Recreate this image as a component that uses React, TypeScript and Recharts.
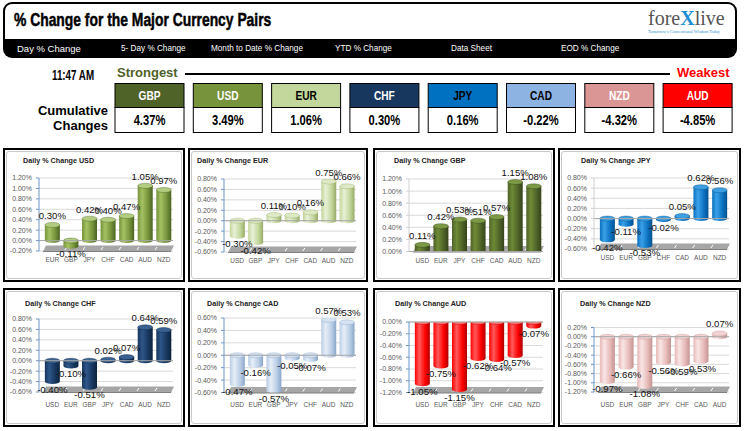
import React from 'react'
import { BarChart, Bar, XAxis, YAxis, CartesianGrid, ReferenceLine, ReferenceArea, LabelList } from 'recharts'

const SANS = "'Liberation Sans', Arial, sans-serif"
const SERIF = "'Liberation Serif', 'Times New Roman', serif"

// strongest -> weakest
const rankedCurrencies = ['GBP', 'USD', 'EUR', 'CHF', 'JPY', 'CAD', 'NZD', 'AUD']
const cumulativeChanges = [4.37, 3.49, 1.06, 0.3, 0.16, -0.22, -4.32, -4.85]

const menuItems = ['Day % Change', '5- Day % Change', 'Month to Date % Change', 'YTD % Change', 'Data Sheet', 'EOD % Change']

const usdPairs = ['EUR', 'GBP', 'JPY', 'CHF', 'CAD', 'AUD', 'NZD']
const usdChange = [0.3, -0.11, 0.42, 0.4, 0.47, 1.05, 0.97]
const usdTicks = [-0.2, 0, 0.2, 0.4, 0.6, 0.8, 1.0, 1.2]

const eurPairs = ['USD', 'GBP', 'JPY', 'CHF', 'CAD', 'AUD', 'NZD']
const eurChange = [-0.3, -0.42, 0.11, 0.1, 0.16, 0.75, 0.66]
const eurTicks = [-0.6, -0.4, -0.2, 0, 0.2, 0.4, 0.6, 0.8]

const gbpPairs = ['USD', 'EUR', 'JPY', 'CHF', 'CAD', 'AUD', 'NZD']
const gbpChange = [0.11, 0.42, 0.53, 0.51, 0.57, 1.15, 1.08]
const gbpTicks = [0, 0.2, 0.4, 0.6, 0.8, 1.0, 1.2]

const jpyPairs = ['USD', 'EUR', 'GBP', 'CHF', 'CAD', 'AUD', 'NZD']
const jpyChange = [-0.42, -0.11, -0.53, -0.02, 0.05, 0.62, 0.56]
const jpyTicks = [-0.6, -0.4, -0.2, 0, 0.2, 0.4, 0.6, 0.8]

const chfPairs = ['USD', 'EUR', 'GBP', 'JPY', 'CAD', 'AUD', 'NZD']
const chfChange = [-0.4, -0.1, -0.51, 0.02, 0.07, 0.64, 0.59]
const chfTicks = [-0.6, -0.4, -0.2, 0, 0.2, 0.4, 0.6, 0.8]

const cadPairs = ['USD', 'EUR', 'GBP', 'JPY', 'CHF', 'AUD', 'NZD']
const cadChange = [-0.47, -0.16, -0.57, -0.05, -0.07, 0.57, 0.53]
const cadTicks = [-0.6, -0.4, -0.2, 0, 0.2, 0.4, 0.6]

const audPairs = ['USD', 'EUR', 'GBP', 'JPY', 'CHF', 'CAD', 'NZD']
const audChange = [-1.05, -0.75, -1.15, -0.62, -0.64, -0.57, -0.07]
const audTicks = [-1.2, -1.0, -0.8, -0.6, -0.4, -0.2, 0]

const nzdPairs = ['USD', 'EUR', 'GBP', 'JPY', 'CHF', 'CAD', 'AUD']
const nzdChange = [-0.97, -0.66, -1.08, -0.56, -0.59, -0.53, 0.07]
const nzdTicks = [-1.2, -1.0, -0.8, -0.6, -0.4, -0.2, 0, 0.2]

// box colours for the strength strip
const boxFill: Record<string, string> = {
  GBP: '#4f6228', USD: '#77933c', EUR: '#c3d69b', CHF: '#17375e',
  JPY: '#0070c0', CAD: '#8db3e2', NZD: '#d99694', AUD: '#ff0000',
}
const boxText: Record<string, string> = {
  GBP: '#fff', USD: '#fff', EUR: '#000', CHF: '#fff',
  JPY: '#000', CAD: '#000', NZD: '#fff', AUD: '#fff',
}

// cylinder shading per base currency
const tones: Record<string, { base: string; light: string; dark: string; top: string }> = {
  USD: { base: '#77933c', light: '#a4c162', dark: '#4a6420', top: '#b3cd80' },
  EUR: { base: '#c3d69b', light: '#e8f0d7', dark: '#97ab66', top: '#dde8c4' },
  GBP: { base: '#4f6228', light: '#6e8a36', dark: '#34431a', top: '#7c9945' },
  JPY: { base: '#0b72c0', light: '#3aa0e8', dark: '#04528e', top: '#3d9fe0' },
  CHF: { base: '#17375e', light: '#2e5688', dark: '#0c2340', top: '#3a6290' },
  CAD: { base: '#b9cde5', light: '#e6eef8', dark: '#8aa6c9', top: '#d5e2f2' },
  AUD: { base: '#ff0000', light: '#ff5a5a', dark: '#b00000', top: '#ff7070' },
  NZD: { base: '#e6b9b8', light: '#f8e6e5', dark: '#c29391', top: '#f0d3d2' },
}

const panels = [
  { code: 'USD', pairs: usdPairs, values: usdChange, ticks: usdTicks, left: 3, top: 148, width: 182, height: 134, plotTop: 28, plotBottom: 101, titleX: 18, row: 1, axis: '#6f95c9' },
  { code: 'EUR', pairs: eurPairs, values: eurChange, ticks: eurTicks, left: 188, top: 148, width: 180, height: 134, plotTop: 29, plotBottom: 102, titleX: 7, row: 1, axis: '#6f95c9' },
  { code: 'GBP', pairs: gbpPairs, values: gbpChange, ticks: gbpTicks, left: 373, top: 148, width: 182, height: 134, plotTop: 29, plotBottom: 101.5, titleX: 19, row: 1, axis: '#d0d0d0' },
  { code: 'JPY', pairs: jpyPairs, values: jpyChange, ticks: jpyTicks, left: 558, top: 148, width: 183, height: 134, plotTop: 28, plotBottom: 99, titleX: 21, row: 1, axis: '#d0d0d0' },
  { code: 'CHF', pairs: chfPairs, values: chfChange, ticks: chfTicks, left: 3, top: 288, width: 182, height: 139, plotTop: 29, plotBottom: 102, titleX: 20, row: 2, axis: '#6f95c9' },
  { code: 'CAD', pairs: cadPairs, values: cadChange, ticks: cadTicks, left: 188, top: 288, width: 180, height: 139, plotTop: 28, plotBottom: 102.5, titleX: 17, row: 2, axis: '#6f95c9' },
  { code: 'AUD', pairs: audPairs, values: audChange, ticks: audTicks, left: 373, top: 288, width: 182, height: 139, plotTop: 32, plotBottom: 102.5, titleX: 20, row: 2, axis: '#6f95c9' },
  { code: 'NZD', pairs: nzdPairs, values: nzdChange, ticks: nzdTicks, left: 558, top: 288, width: 183, height: 139, plotTop: 37.5, plotBottom: 102, titleX: 20, row: 2, axis: '#6f95c9' },
]

const pct = (v: number) => `${v.toFixed(2)}%`

function Squeeze({ x, y, size, sx, anchor = 'start', fill = '#000', stroke, children }: any) {
  return (
    <text
      transform={`translate(${x},${y}) scale(${sx},1)`}
      textAnchor={anchor}
      fontSize={size}
      fontWeight="bold"
      fontFamily={SANS}
      fill={fill}
      stroke={stroke}
      strokeWidth={stroke ? 0.5 : 0}
    >
      {children}
    </text>
  )
}

function Header() {
  const menuX = [17, 121, 211, 335, 451, 561]
  return (
    <svg width={745} height={140} style={{ position: 'absolute', left: 0, top: 0 }}>
      {/* title bar */}
      <rect x={3} y={2} width={734} height={56} rx={9} fill="#000" />
      <rect x={5} y={4} width={730} height={35} rx={7} fill="#fff" />
      <rect x={5} y={22} width={730} height={17} fill="#fff" />
      <Squeeze x={14} y={26} size={19} sx={0.73} stroke="#000">% Change for the Major Currency Pairs</Squeeze>
      <text x={648} y={25} fontSize={20} fontFamily={SERIF} fill="#555">
        fore<tspan fill="#1f8fd6" fontWeight="bold">X</tspan>live
      </text>
      <text x={648} y={33} fontSize={3.6} fontFamily={SERIF} fill="#1f8fd6" textLength={72} lengthAdjust="spacingAndGlyphs">
        Tomorrow's Conventional Wisdom Today
      </text>
      {menuItems.map((m, i) => (
        <text key={m} x={menuX[i]} y={i === 0 ? 52 : 51} fontSize={i === 0 ? 9.5 : 8.2} fontFamily={SANS} fill="#fff">
          {m}
        </text>
      ))}

      {/* strength strip */}
      <Squeeze x={52} y={80} size={14} sx={0.7}>11:47 AM</Squeeze>
      <text x={117} y={77} fontSize={13} fontWeight="bold" fontFamily={SANS} fill="#4f6228">Strongest</text>
      <line x1={185} x2={670} y1={74} y2={74} stroke="#000" strokeWidth={2} />
      <text x={677} y={77} fontSize={13} fontWeight="bold" fontFamily={SANS} fill="#ff0000">Weakest</text>
      <text x={108} y={115} fontSize={13} fontWeight="bold" fontFamily={SANS} textAnchor="end">Cumulative</text>
      <text x={108} y={130} fontSize={13} fontWeight="bold" fontFamily={SANS} textAnchor="end">Changes</text>
      {rankedCurrencies.map((c, i) => {
        const bx = 115 + i * 78.3
        return (
          <g key={c}>
            <rect x={bx} y={83.5} width={69} height={24} fill={boxFill[c]} stroke="#000" strokeWidth={1} />
            <rect x={bx} y={107.5} width={69} height={25} fill="#fff" stroke="#000" strokeWidth={1} />
            <Squeeze x={bx + 34.5} y={100} size={13} sx={0.78} anchor="middle" fill={boxText[c]}>{c}</Squeeze>
            <Squeeze x={bx + 34.5} y={125} size={14} sx={0.8} anchor="middle">{pct(cumulativeChanges[i])}</Squeeze>
          </g>
        )
      })}
    </svg>
  )
}

// grey 3d floor along the bottom of the plot, split per category
function Floor(props: any) {
  const { x, y, width, height, count } = props
  if (x == null || !width) return null
  const yb = y + height + 0.5
  const yt = yb - 6
  const band = (width - 4) / count
  const seps = Array.from({ length: count - 1 }, (_, k) => x + 4 + band * (k + 1))
  return (
    <g>
      <polygon points={`${x + 3},${yt} ${x + width + 1},${yt} ${x + width - 2},${yb} ${x},${yb}`} fill="#a6a6a6" />
      <line x1={x} x2={x + width - 2} y1={yb} y2={yb} stroke="#7f7f7f" strokeWidth={1} />
      {seps.map((sx, k) => (
        <line key={k} x1={sx + 2} x2={sx} y1={yt + 1.5} y2={yb - 1.5} stroke="#fff" strokeWidth={1} />
      ))}
    </g>
  )
}

function Cylinder(props: any) {
  const { x, y, width, height, tone, gid } = props
  if (x == null || !width) return null
  const top = Math.min(y, y + height)
  const bottom = Math.max(y, y + height)
  const rx = width / 2
  const ry = 2.5
  const d = `M${x},${top}L${x},${bottom}A${rx},${ry} 0 0 0 ${x + width},${bottom}L${x + width},${top}Z`
  return (
    <g>
      <path d={d} fill={`url(#${gid})`} />
      <ellipse cx={x + rx} cy={top} rx={rx} ry={ry} fill={tone.top} stroke={tone.dark} strokeWidth={0.4} />
    </g>
  )
}

function ValueLabel(props: any) {
  const vb = props.viewBox || props
  const { x, y, width, height } = vb
  const v = Number(props.value)
  if (x == null || isNaN(v)) return null
  const top = Math.min(y, y + height)
  const bottom = Math.max(y, y + height)
  const ty = v >= 0 ? top - 6 : bottom + 11
  return (
    <text x={x + width / 2} y={ty} textAnchor="middle" fontSize={9.6} fontFamily={SANS} fill="#111">
      {pct(v)}
    </text>
  )
}

function Panel({ p }: { p: (typeof panels)[number] }) {
  const innerW = p.width - 4
  const innerH = p.height - 4
  const data = p.pairs.map((name, i) => ({ name, value: p.values[i] }))
  const tone = tones[p.code]
  const gid = `cyl-${p.code}`
  const titleY = p.row === 1 ? 11 : 13.5
  const lo = p.ticks[0]
  const hi = p.ticks[p.ticks.length - 1]
  return (
    <div
      style={{
        position: 'absolute', left: p.left, top: p.top, width: p.width, height: p.height,
        boxSizing: 'border-box', border: '2px solid #000', background: '#fff',
      }}
    >
      <div style={{ position: 'absolute', left: 1, top: 1, right: 1, bottom: 1, border: '1px solid #c8c8c8', borderRadius: 3 }} />
      <div
        style={{
          position: 'absolute', left: p.titleX, top: titleY - 5, height: 10, lineHeight: '10px',
          fontSize: 7.2, fontWeight: 'bold', fontFamily: SANS, color: '#222', whiteSpace: 'nowrap',
        }}
      >
        Daily % Change {p.code}
      </div>
      <div style={{ position: 'absolute', left: 0, top: 0 }}>
        <BarChart
          width={innerW}
          height={innerH}
          data={data}
          barCategoryGap="10%"
          margin={{ top: p.plotTop, right: 10, bottom: innerH - p.plotBottom - 20, left: 0 }}
        >
          <defs>
            <linearGradient id={gid} x1="0" y1="0" x2="1" y2="0">
              <stop offset="0" stopColor={tone.base} />
              <stop offset="0.3" stopColor={tone.light} />
              <stop offset="0.7" stopColor={tone.base} />
              <stop offset="1" stopColor={tone.dark} />
            </linearGradient>
          </defs>
          <CartesianGrid vertical={false} stroke="#d9d9d9" />
          <XAxis
            dataKey="name"
            height={20}
            interval={0}
            tickLine={false}
            axisLine={false}
            tickSize={0}
            tickMargin={p.row === 1 ? 6.5 : 10}
            padding={{ left: 4, right: 0 }}
            tick={{ fontSize: 6.5, fill: '#595959', fontFamily: SANS }}
          />
          <YAxis
            type="number"
            domain={[lo, hi]}
            allowDataOverflow
            ticks={p.ticks}
            tickCount={p.ticks.length}
            interval={0}
            width={34}
            tickSize={3}
            tickMargin={4}
            axisLine={{ stroke: p.axis }}
            tickLine={{ stroke: p.axis }}
            tickFormatter={pct}
            tick={{ fontSize: 7, fill: '#595959', fontFamily: SANS }}
          />
          <ReferenceArea
            y1={lo}
            y2={lo + (hi - lo) * 0.05}
            ifOverflow="visible"
            shape={(ap: any) => <Floor {...ap} count={p.pairs.length} />}
          />
          <ReferenceLine y={0} stroke="#a6a6a6" />
          <Bar
            dataKey="value"
            isAnimationActive={false}
            shape={(sp: any) => <Cylinder {...sp} tone={tone} gid={gid} />}
          >
            <LabelList dataKey="value" content={(lp: any) => <ValueLabel {...lp} />} />
          </Bar>
        </BarChart>
      </div>
    </div>
  )
}

export default function App() {
  return (
    <div style={{ position: 'absolute', left: 0, top: 0, width: 745, height: 431, background: '#fff', overflow: 'hidden' }}>
      <Header />
      {panels.map((p) => (
        <Panel key={p.code} p={p} />
      ))}
    </div>
  )
}
